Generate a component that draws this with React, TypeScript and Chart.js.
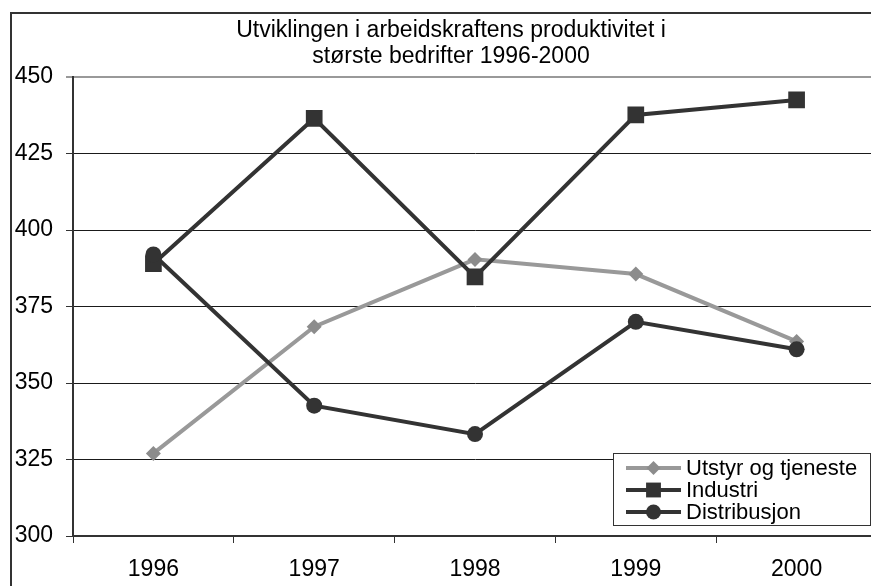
import React, { useEffect, useRef } from 'react';
import { Chart, registerables } from 'chart.js';

Chart.register(...registerables);

const categories = ['1996', '1997', '1998', '1999', '2000'];
const utstyr = [327, 368.4, 390.4, 385.6, 363.6];
const industri = [389, 436.5, 384.7, 437.6, 442.5];
const distribusjon = [392, 342.6, 333.3, 370, 361];
const seriesNames = ['Utstyr og tjeneste', 'Industri', 'Distribusjon'];
const titleLines = ['Utviklingen i arbeidskraftens produktivitet i', 'største bedrifter 1996-2000'];
const yMin = 300;
const yMax = 450;
const yStep = 25;

const FONT = '"Liberation Sans", Arial, sans-serif';
const W = 902;
const H = 600;

function drawMarker(ctx: CanvasRenderingContext2D, style: string, x: number, y: number, r: number, color: string) {
  ctx.save();
  ctx.fillStyle = color;
  ctx.beginPath();
  if (style === 'rect') {
    const s = r * Math.SQRT1_2;
    ctx.rect(x - s, y - s, 2 * s, 2 * s);
  } else if (style === 'rectRot') {
    ctx.moveTo(x, y - r);
    ctx.lineTo(x + r, y);
    ctx.lineTo(x, y + r);
    ctx.lineTo(x - r, y);
    ctx.closePath();
  } else {
    ctx.arc(x, y, r, 0, Math.PI * 2);
  }
  ctx.fill();
  ctx.restore();
}

const framePlugin = {
  id: 'frame',
  beforeDraw(chart: any) {
    const ctx = chart.ctx;
    ctx.save();
    ctx.fillStyle = '#fff';
    ctx.fillRect(0, 0, chart.width, chart.height);
    ctx.strokeStyle = '#333';
    ctx.lineWidth = 2;
    ctx.strokeRect(11, 13, 2000, 2000);
    ctx.restore();
  },
};

const legendPlugin = {
  id: 'customLegend',
  afterDraw(chart: any) {
    const ctx: CanvasRenderingContext2D = chart.ctx;
    const area = chart.chartArea;
    const ds = [...chart.data.datasets];
    ctx.save();
    ctx.font = `22px ${FONT}`;
    const rowH = 22;
    const lineLen = 55;
    const padL = 13;
    const gap = 5;
    const padR = 13;
    const padT = 4;
    const padB = 2;
    const textW = Math.max(...ds.map((d: any) => ctx.measureText(d.label).width));
    const w = Math.round(padL + lineLen + gap + textW + padR);
    const h = padT + padB + rowH * ds.length;
    const right = area.right - 7;
    const bottom = area.bottom - 11;
    const left = Math.round(right - w);
    const top = Math.round(bottom - h);
    ctx.fillStyle = '#fff';
    ctx.fillRect(left, top, w, h);
    ctx.strokeStyle = '#333';
    ctx.lineWidth = 1;
    ctx.strokeRect(left + 0.5, top + 0.5, w, h);
    ds.forEach((d: any, i: number) => {
      const cy = top + padT + rowH * i + rowH / 2;
      const x0 = left + padL;
      ctx.strokeStyle = d.borderColor;
      ctx.lineWidth = 4;
      ctx.beginPath();
      ctx.moveTo(x0, cy);
      ctx.lineTo(x0 + lineLen, cy);
      ctx.stroke();
      drawMarker(ctx, d.pointStyle, x0 + lineLen / 2, cy, d.legendRadius, d.pointBackgroundColor);
      ctx.fillStyle = '#000';
      ctx.textBaseline = 'middle';
      ctx.textAlign = 'left';
      ctx.fillText(d.label, x0 + lineLen + gap, cy + 1);
    });
    ctx.restore();
  },
};

export default function App() {
  const ref = useRef<HTMLCanvasElement>(null);
  useEffect(() => {
    if (!ref.current) return;
    const chart = new Chart(ref.current, {
      type: 'line',
      data: {
        labels: categories,
        datasets: [
          {
            label: seriesNames[0],
            data: utstyr,
            borderColor: '#999999',
            backgroundColor: '#8c8c8c',
            pointBackgroundColor: '#8c8c8c',
            pointBorderColor: '#8c8c8c',
            pointBorderWidth: 0,
            borderWidth: 4,
            pointStyle: 'rectRot',
            pointRadius: 7.5,
            legendRadius: 7,
            tension: 0,
            order: 3,
          } as any,
          {
            label: seriesNames[1],
            data: industri,
            borderColor: '#333333',
            backgroundColor: '#333333',
            pointBackgroundColor: '#333333',
            pointBorderColor: '#333333',
            pointBorderWidth: 0,
            borderWidth: 4,
            pointStyle: 'rect',
            pointRadius: 11.8,
            legendRadius: 10.5,
            tension: 0,
            order: 2,
          } as any,
          {
            label: seriesNames[2],
            data: distribusjon,
            borderColor: '#333333',
            backgroundColor: '#333333',
            pointBackgroundColor: '#333333',
            pointBorderColor: '#333333',
            pointBorderWidth: 0,
            borderWidth: 4,
            pointStyle: 'circle',
            pointRadius: 8,
            legendRadius: 7.5,
            tension: 0,
            order: 1,
          } as any,
        ],
      },
      options: {
        animation: false,
        responsive: false,
        devicePixelRatio: 1,
        layout: { padding: 0 },
        plugins: {
          legend: { display: false },
          tooltip: { enabled: false },
          title: {
            display: true,
            text: titleLines,
            color: '#000',
            font: { family: FONT, size: 23, weight: 'normal', lineHeight: 26 / 23 },
            padding: { top: 18, bottom: 7 },
          },
        },
        scales: {
          x: {
            type: 'category',
            offset: true,
            afterFit: (s: any) => { s.height = H - 536; },
            grid: {
              display: true,
              offset: true,
              drawOnChartArea: false,
              drawTicks: true,
              tickLength: 7,
              color: '#333',
              lineWidth: 1,
            },
            border: { display: true, color: '#333', width: 2 },
            ticks: {
              color: '#000',
              font: { family: FONT, size: 23 },
              padding: 13,
              maxRotation: 0,
            },
          },
          y: {
            min: yMin,
            max: yMax,
            afterFit: (s: any) => { s.width = 73; },
            ticks: {
              stepSize: yStep,
              color: '#000',
              font: { family: FONT, size: 23 },
              padding: 13,
            },
            grid: {
              color: (c: any) => (c.tick && c.tick.value === yMax ? '#999' : '#1a1a1a'),
              lineWidth: (c: any) => (c.tick && c.tick.value === yMax ? 2 : 1),
              tickColor: '#333',
              tickWidth: 1,
              tickLength: 7,
              drawTicks: true,
            },
            border: { display: true, color: '#333', width: 2 },
          },
          yRight: {
            type: 'linear',
            position: 'right',
            display: true,
            min: yMin,
            max: yMax,
            afterFit: (s: any) => { s.width = 25; },
            ticks: { display: false },
            grid: { display: false, drawTicks: false },
            border: { display: false },
          },
        },
      },
      plugins: [framePlugin, legendPlugin],
    });
    return () => chart.destroy();
  }, []);

  return (
    <div style={{ position: 'fixed', left: 0, top: 0, width: 871, height: 586, overflow: 'hidden', background: '#fff' }}>
      <canvas ref={ref} width={W} height={H} style={{ display: 'block', width: W, height: H }} />
    </div>
  );
}
